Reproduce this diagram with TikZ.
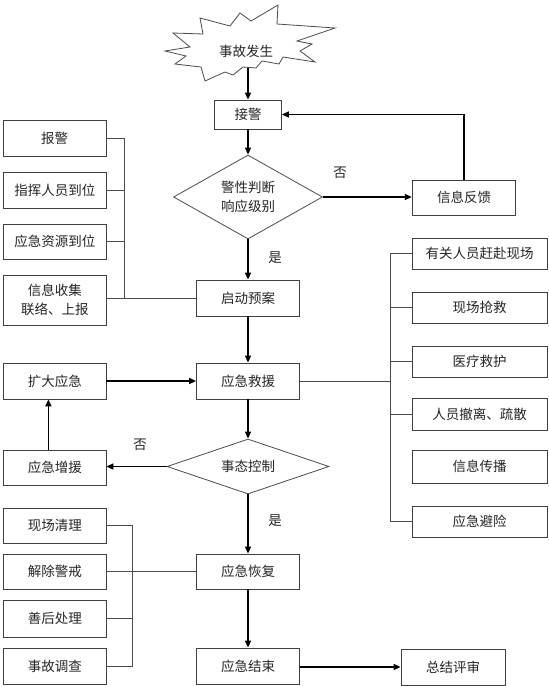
\documentclass[tikz,border=0pt]{standalone}
\usepackage{fontspec}
\newfontfamily\cjk{Noto Sans CJK SC}
\usetikzlibrary{arrows.meta,shapes.geometric}
\begin{document}
\begin{tikzpicture}[x=1pt,y=-1pt,
  every node/.style={font=\cjk\fontsize{13.5}{19.5}\selectfont, text=black!85},
  box/.style={draw=black!75, line width=0.8pt, inner sep=0pt, minimum width=103pt, minimum height=36pt, align=center},
  dia/.style={draw=black!70, diamond, line width=0.8pt, inner sep=0pt, align=center},
  arr/.style={draw=black, line width=1.5pt, -{Triangle[length=7pt,width=6pt]}},
  link/.style={draw=black!70, line width=0.8pt},
  burst/.style={draw=black!70, line width=0.8pt}
]
\fill[white] (0,0) rectangle (549,686);
\useasboundingbox (0,0) rectangle (549,686);

% starburst
\draw[burst] (165,51) -- (190,47) -- (173,33) -- (203,34) -- (200,18) -- (230,26)
  -- (240,13) -- (251,21) -- (278,5) -- (277,24) -- (335,28) -- (297,41)
  -- (312,44) -- (300,51) -- (315,62) -- (283,57) -- (279,64) -- (262,61)
  -- (256,68) -- (243,67) -- (233,75) -- (225,72) -- (205,81) -- (201,67)
  -- (175,64) -- (186,56) -- cycle;
\node (ev) at (246,51) {事故发生};
\coordinate (evb) at (248,67.5);

% main column
\node[box, minimum width=67pt, minimum height=29pt] (jj) at (248,114.5) {接警};
\node[dia, shape aspect=1.77, minimum width=149pt, minimum height=84pt] (d1) at (248,197) {警性判断\\响应级别};
\node[box, minimum width=103.5pt, minimum height=35.5pt] (fk) at (464,197.7) {信息反馈};
\node[box] (qd) at (248,298) {启动预案};
\node[box] (jy) at (248,381) {应急救援};
\node[dia, shape aspect=2.95, minimum width=162pt, minimum height=55pt] (d2) at (248,466.5) {事态控制};
\node[box, minimum height=35pt] (hf) at (248,571.5) {应急恢复};
\node[box] (js) at (248,666) {应急结束};
\node[box, minimum width=104pt] (zj) at (453,667) {总结评审};

% left column
\node[box, minimum width=102.5pt] (bj) at (54.75,138) {报警};
\node[box, minimum width=102.5pt] (zh) at (54.75,190) {指挥人员到位};
\node[box, minimum width=102.5pt, minimum height=35pt] (zy) at (54.75,241.5) {应急资源到位};
\node[box, minimum width=102.5pt, minimum height=50pt] (xx) at (54.75,300) {信息收集\\联络、上报};
\node[box, minimum width=102.5pt] (kd) at (54.75,381) {扩大应急};
\node[box, minimum width=102.5pt, minimum height=35pt] (zz) at (54.75,467.5) {应急增援};
\node[box, minimum width=102.5pt, minimum height=35pt] (xc) at (54.75,525.5) {现场清理};
\node[box, minimum width=102.5pt, minimum height=35pt] (jc) at (54.75,571.5) {解除警戒};
\node[box, minimum width=102.5pt, minimum height=37pt] (sh) at (54.75,618.5) {善后处理};
\node[box, minimum width=102.5pt] (dc) at (54.75,666) {事故调查};

% right column
\node[box, minimum width=135pt, minimum height=31pt] (r1) at (479.5,253.5) {有关人员赶赴现场};
\node[box, minimum width=135pt, minimum height=31pt] (r2) at (479.5,307.5) {现场抢救};
\node[box, minimum width=135pt, minimum height=31pt] (r3) at (479.5,361.5) {医疗救护};
\node[box, minimum width=135pt, minimum height=32pt] (r4) at (479.5,414) {人员撤离、疏散};
\node[box, minimum width=135pt, minimum height=33pt] (r5) at (479.5,466.5) {信息传播};
\node[box, minimum width=135pt, minimum height=31pt] (r6) at (479.5,521.5) {应急避险};

% labels
\node (no1) at (340,173) {否};
\node (yes1) at (275,258) {是};
\node (no2) at (140,445) {否};
\node (yes2) at (275,521) {是};

% bracket columns
\coordinate (bk1) at (124.6,0);
\coordinate (bk2) at (390,0);
\coordinate (bk3) at (132.3,0);
\coordinate (upx) at (48.4,0);

\draw[link] (bj.east) -- (bj.east -| bk1) -- (qd.west -| bk1);
\draw[link] (zh.east) -- (zh.east -| bk1);
\draw[link] (zy.east) -- (zy.east -| bk1);
\draw[link] (qd.west -| xx.east) -- (qd.west);

\draw[link] (jy.east) -- (jy.east -| bk2);
\draw[link] (r1.west) -- (r1.west -| bk2) -- (r6.west -| bk2) -- (r6.west);
\draw[link] (r2.west) -- (r2.west -| bk2);
\draw[link] (r3.west) -- (r3.west -| bk2);
\draw[link] (r4.west) -- (r4.west -| bk2);

\draw[link] (xc.east) -- (xc.east -| bk3) -- (dc.east -| bk3) -- (dc.east);
\draw[link] (sh.east) -- (sh.east -| bk3);
\draw[link] (jc.east) -- (hf.west);

% arrows
\draw[arr] (evb) -- (jj.north);
\draw[arr] (jj.south) -- (d1.north);
\draw[arr] (d1.east) -- (d1.east -| fk.west);
\draw[arr] (fk.north) |- (jj.east);
\draw[arr] (d1.south) -- (qd.north);
\draw[arr] (qd.south) -- (jy.north);
\draw[arr] (kd.east) -- (jy.west);
\draw[arr] (jy.south) -- (d2.north);
\draw[arr] (d2.west) -- (d2.west -| zz.east);
\draw[arr] (zz.north -| upx) -- (kd.south -| upx);
\draw[arr] (d2.south) -- (hf.north);
\draw[arr] (hf.south) -- (js.north);
\draw[arr] (js.east |- zj.west) -- (zj.west);
\end{tikzpicture}
\end{document}
